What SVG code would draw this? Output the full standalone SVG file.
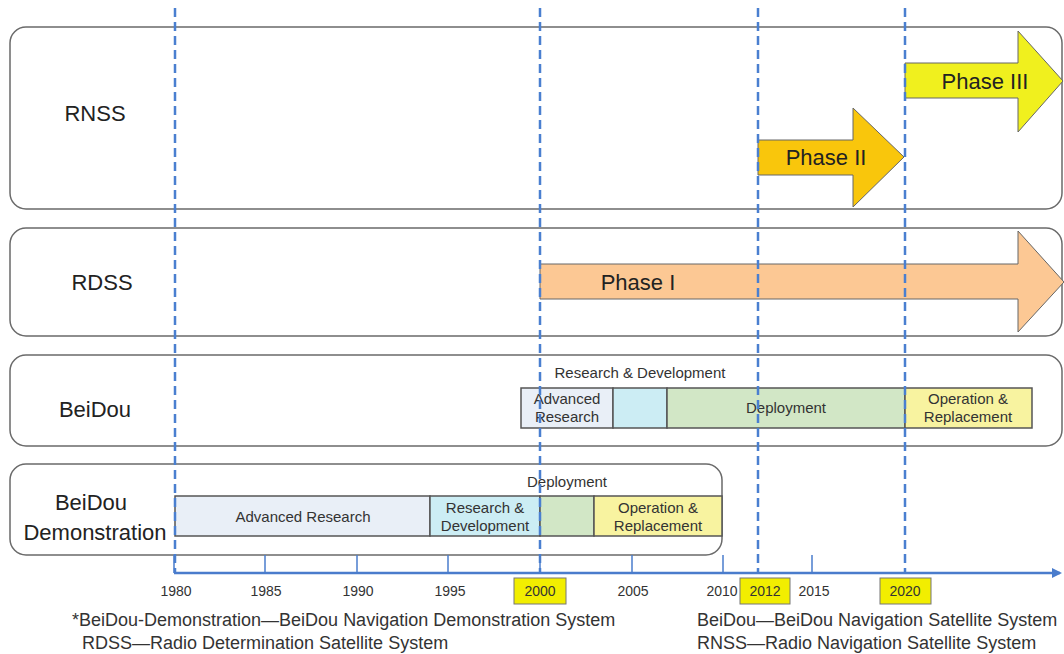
<svg xmlns="http://www.w3.org/2000/svg" width="1064" height="654" viewBox="0 0 1064 654">
<defs>
<style>
.row{fill:#fff;stroke:#6a6a6a;stroke-width:1.5}
.lbl{font-family:"Liberation Sans",Arial,sans-serif;font-size:22px;fill:#222;text-anchor:middle;dominant-baseline:central}
.bar{stroke:#555;stroke-width:1.5}
.bt{font-family:"Liberation Sans",Arial,sans-serif;font-size:15px;fill:#333;text-anchor:middle;dominant-baseline:central}
.arr{stroke:#666;stroke-width:1}
.pt{font-family:"Liberation Sans",Arial,sans-serif;font-size:22px;fill:#222;text-anchor:middle;dominant-baseline:central}
.dash{stroke:#4a7fd0;stroke-width:2.5;stroke-dasharray:9,5;fill:none}
.axis{stroke:#4a7ccc;stroke-width:2.5;fill:none}
.tick{stroke:#4a7ccc;stroke-width:1.5}
.yr{font-family:"Liberation Sans",Arial,sans-serif;font-size:14px;fill:#333;text-anchor:middle;dominant-baseline:central}
.ybox{fill:#f2ee00;stroke:#777;stroke-width:1}
.fn{font-family:"Liberation Sans",Arial,sans-serif;font-size:18px;fill:#333}
.ar{fill:#e9eff7}.rd{fill:#ccedf4}.dp{fill:#d2e7c6}.op{fill:#f8f3a0}
</style>
<marker id="ah" markerWidth="10" markerHeight="10" refX="8" refY="5" orient="auto" markerUnits="userSpaceOnUse">
<path d="M0,0 L10,5 L0,10 Z" fill="#4a7ccc"/>
</marker>
</defs>

<g id="row-rnss">
<rect class="row" x="10" y="27" width="1052" height="182" rx="16"/>
<text class="lbl" x="95" y="113">RNSS</text>
</g>
<g id="row-rdss">
<rect class="row" x="10" y="228" width="1052" height="108" rx="16"/>
<text class="lbl" x="102" y="282">RDSS</text>
</g>
<g id="row-beidou">
<rect class="row" x="10" y="355" width="1052" height="91" rx="16"/>
<text class="lbl" x="95" y="409">BeiDou</text>
<text class="bt" x="640" y="372">Research &amp; Development</text>
<rect class="bar ar" x="521" y="388" width="92" height="40"/>
<rect class="bar rd" x="613" y="388" width="54" height="40"/>
<rect class="bar dp" x="667" y="388" width="238" height="40"/>
<rect class="bar op" x="905" y="388" width="127" height="40"/>
<text class="bt" x="567" y="398">Advanced</text>
<text class="bt" x="567" y="416">Research</text>
<text class="bt" x="786" y="407">Deployment</text>
<text class="bt" x="968" y="398">Operation &amp;</text>
<text class="bt" x="968" y="416">Replacement</text>
</g>
<g id="row-demo">
<rect class="row" x="10" y="464" width="712" height="91" rx="16"/>
<text class="lbl" x="91" y="502">BeiDou</text>
<text class="lbl" x="95" y="532">Demonstration</text>
<text class="bt" x="567" y="481">Deployment</text>
<rect class="bar ar" x="175" y="496" width="255" height="40"/>
<rect class="bar rd" x="430" y="496" width="110" height="40"/>
<rect class="bar dp" x="540" y="496" width="54" height="40"/>
<rect class="bar op" x="594" y="496" width="128" height="40"/>
<text class="bt" x="303" y="516">Advanced Research</text>
<text class="bt" x="485" y="507">Research &amp;</text>
<text class="bt" x="485" y="525">Development</text>
<text class="bt" x="658" y="507">Operation &amp;</text>
<text class="bt" x="658" y="525">Replacement</text>
</g>

<g id="phase-1">
<path class="arr" d="M540,264 H1018 V231 L1064,282 L1018,332 V299 H540 Z" fill="#fcc894"/>
<text class="pt" x="638" y="282">Phase I</text>
</g>
<g id="phase-2">
<path class="arr" d="M758,140 H853 V108 L904,157 L853,207 V175 H758 Z" fill="#f9c60c"/>
<text class="pt" x="826" y="157">Phase II</text>
</g>
<g id="phase-3">
<path class="arr" d="M905,63 H1018 V31 L1063,81 L1018,132 V98 H905 Z" fill="#f0f01e"/>
<text class="pt" x="985" y="81">Phase III</text>
</g>

<g id="connectors">
<line class="dash" x1="175" y1="8" x2="175" y2="573"/>
<line class="dash" x1="540" y1="8" x2="540" y2="573"/>
<line class="dash" x1="758" y1="8" x2="758" y2="573"/>
<line class="dash" x1="905" y1="8" x2="905" y2="573"/>
<line class="axis" x1="174" y1="573" x2="1060" y2="573" marker-end="url(#ah)"/>
<line class="tick" x1="174" y1="555" x2="174" y2="573"/>
<line class="tick" x1="265" y1="555" x2="265" y2="573"/>
<line class="tick" x1="357" y1="555" x2="357" y2="573"/>
<line class="tick" x1="448" y1="555" x2="448" y2="573"/>
<line class="tick" x1="540" y1="555" x2="540" y2="573"/>
<line class="tick" x1="632" y1="555" x2="632" y2="573"/>
<line class="tick" x1="723" y1="555" x2="723" y2="573"/>
<line class="tick" x1="812" y1="555" x2="812" y2="573"/>
</g>

<g id="axis-labels">
<text class="yr" x="176" y="591">1980</text>
<text class="yr" x="266" y="591">1985</text>
<text class="yr" x="358" y="591">1990</text>
<text class="yr" x="450" y="591">1995</text>
<rect class="ybox" x="514" y="578" width="52" height="26"/>
<text class="yr" x="540" y="591">2000</text>
<text class="yr" x="633" y="591">2005</text>
<text class="yr" x="722" y="591">2010</text>
<rect class="ybox" x="740" y="578" width="50" height="26"/>
<text class="yr" x="765" y="591">2012</text>
<text class="yr" x="814" y="591">2015</text>
<rect class="ybox" x="880" y="578" width="51" height="26"/>
<text class="yr" x="905" y="591">2020</text>
</g>

<g id="footnotes">
<text class="fn" x="72" y="626">*BeiDou-Demonstration—BeiDou Navigation Demonstration System</text>
<text class="fn" x="82" y="649">RDSS—Radio Determination Satellite System</text>
<text class="fn" x="697" y="626">BeiDou—BeiDou Navigation Satellite System</text>
<text class="fn" x="697" y="649">RNSS—Radio Navigation Satellite System</text>
</g>
</svg>
